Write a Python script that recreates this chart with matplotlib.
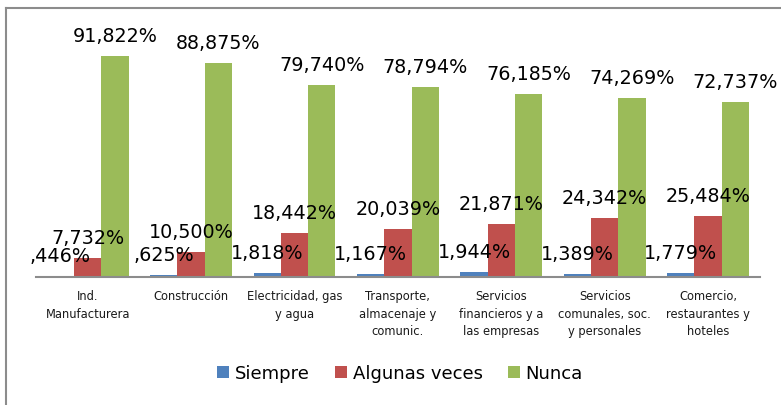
import matplotlib.pyplot as plt
import numpy as np
from matplotlib.lines import Line2D

categorias = ["Ind.\nManufacturera", "Construcción", "Electricidad, gas\ny agua",
              "Transporte,\nalmacenaje y\ncomunic.", "Servicios\nfinancieros y a\nlas empresas",
              "Servicios\ncomunales, soc.\ny personales", "Comercio,\nrestaurantes y\nhoteles"]
siempre = [0.446, 0.625, 1.818, 1.167, 1.944, 1.389, 1.779]
algunas_veces = [7.732, 10.500, 18.442, 20.039, 21.871, 24.342, 25.484]
nunca = [91.822, 88.875, 79.740, 78.794, 76.185, 74.269, 72.737]

series = [("Siempre", siempre, "#4F81BD"),
          ("Algunas veces", algunas_veces, "#C0504D"),
          ("Nunca", nunca, "#9BBB59")]


def etiqueta(v):
    s = f"{v:.3f}".replace(".", ",")
    if s.startswith("0"):
        s = s[1:]  # Excel quita el cero inicial
    return s + "%"


fig = plt.figure(figsize=(7.81, 4.06), dpi=100)
ax = fig.add_axes([36 / 781, 128 / 406, 723.8 / 781, 258 / 406])

x = np.arange(len(categorias))
ancho = 0.264
for i, (nombre, valores, color) in enumerate(series):
    pos = x + (i - 1) * ancho
    ax.bar(pos, valores, width=ancho, color=color, label=nombre, zorder=2)
    for px, v in zip(pos, valores):
        ax.annotate(etiqueta(v), (px, v), xytext=(0, 15), textcoords="offset pixels",
                    ha="center", va="baseline", fontsize=13.8, color="black", zorder=5)

ax.set_xlim(-0.5, len(categorias) - 0.5)
ax.set_ylim(0, 258 / 2.407)
ax.set_yticks([])
ax.set_xticks(x)
ax.set_xticklabels(categorias, fontsize=8.3, color="#1a1a1a", linespacing=1.45)
ax.tick_params(axis="x", length=0, pad=9)
for lado in ["top", "left", "right"]:
    ax.spines[lado].set_visible(False)
ax.spines["bottom"].set_color("#8c8c8c")
ax.spines["bottom"].set_linewidth(1.5)

fig.legend(loc="center", bbox_to_anchor=(400 / 781, 1 - 374 / 406), ncol=3, frameon=False,
           fontsize=13, handlelength=0.67, handleheight=0.67, handletextpad=0.3,
           columnspacing=1.4)

# marco del gráfico
fig.add_artist(Line2D([5.5 / 781, 5.5 / 781], [0, 1 - 8.5 / 406], transform=fig.transFigure,
                      color="#8c8c8c", lw=1.5))
fig.add_artist(Line2D([5.5 / 781, 1], [1 - 8.5 / 406, 1 - 8.5 / 406], transform=fig.transFigure,
                      color="#8c8c8c", lw=1.5))

fig.savefig("out.png", dpi=100)
